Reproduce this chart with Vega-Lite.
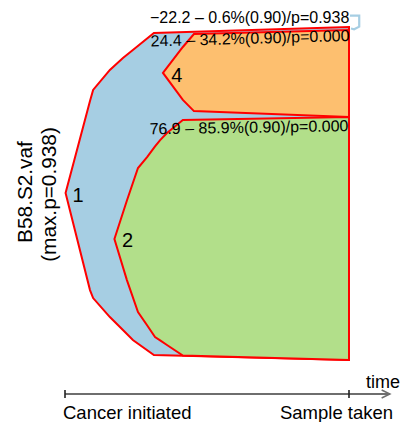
{
  "$schema": "https://vega.github.io/schema/vega-lite/v6.json",
  "width": 402,
  "height": 422,
  "padding": 0,
  "autosize": {"type": "none"},
  "background": "white",
  "config": {"view": {"stroke": null}, "font": "Liberation Sans"},
  "datasets": {
    "clones": [
      {"clone": "1", "t": 0.2, "top": 0.3, "bot": 0.3},
      {"clone": "1", "t": 8.8, "top": 55.6, "bot": -58.0},
      {"clone": "1", "t": 9.9, "top": 62.2, "bot": -62.8},
      {"clone": "1", "t": 15.8, "top": 74.2, "bot": -74.2},
      {"clone": "1", "t": 20.4, "top": 81.4, "bot": -82.0},
      {"clone": "1", "t": 23.9, "top": 86.2, "bot": -88.0},
      {"clone": "1", "t": 31.3, "top": 96.4, "bot": -97.0},
      {"clone": "1", "t": 100, "top": 100, "bot": -100},
      {"clone": "2", "t": 17.4, "top": -27.3, "bot": -27.3},
      {"clone": "2", "t": 21.8, "top": -4.2, "bot": -52.0},
      {"clone": "2", "t": 25.7, "top": 15.3, "bot": -71.2},
      {"clone": "2", "t": 28.9, "top": 21.9, "bot": -79.1},
      {"clone": "2", "t": 31.7, "top": 28.3, "bot": -86.2},
      {"clone": "2", "t": 33.5, "top": 32.1, "bot": -88.2},
      {"clone": "2", "t": 35.9, "top": 36.3, "bot": -91.0},
      {"clone": "2", "t": 41.5, "top": 44.1, "bot": -97.3},
      {"clone": "2", "t": 100, "top": 45.9, "bot": -100},
      {"clone": "4", "t": 34.5, "top": 72.4, "bot": 72.4},
      {"clone": "4", "t": 41.5, "top": 88.0, "bot": 56.2},
      {"clone": "4", "t": 45.4, "top": 95.8, "bot": 49.5},
      {"clone": "4", "t": 100, "top": 98.2, "bot": 45.9}
    ],
    "clone3": [
      {"i": 1, "t": 100.35, "v": 106.8},
      {"i": 2, "t": 103.6, "v": 106.8},
      {"i": 3, "t": 103.6, "v": 100.2},
      {"i": 4, "t": 101.8, "v": 98.6},
      {"i": 5, "t": 100.7, "v": 99.1}
    ],
    "ids": [
      {"label": "1", "t": 4.6, "v": -5.1},
      {"label": "2", "t": 22.0, "v": -32.1},
      {"label": "4", "t": 39.4, "v": 67.0}
    ],
    "arrow": [
      {"i": 1, "t": 111.5, "v": -118.0},
      {"i": 2, "t": 114.4, "v": -120.4},
      {"i": 3, "t": 111.5, "v": -122.8}
    ]
  },
  "layer": [
    {
      "data": {"name": "clones"},
      "transform": [{"filter": "datum.clone == '1'"}],
      "mark": {"type": "area", "fill": "#a6cee3", "fillOpacity": 1, "stroke": "#ff0000", "strokeWidth": 2, "interpolate": "linear"},
      "encoding": {
        "x": {"field": "t", "type": "quantitative", "scale": {"domain": [0, 100], "range": [65, 349], "nice": false, "zero": false}, "axis": null},
        "y": {"field": "top", "type": "quantitative", "scale": {"domain": [-100, 100], "range": [360, 27], "nice": false, "zero": false}, "axis": null},
        "y2": {"field": "bot"}
      }
    },
    {
      "data": {"name": "clones"},
      "transform": [{"filter": "datum.clone == '2'"}],
      "mark": {"type": "area", "fill": "#b2df8a", "fillOpacity": 1, "stroke": "#ff0000", "strokeWidth": 2, "interpolate": "linear"},
      "encoding": {
        "x": {"field": "t", "type": "quantitative", "scale": {"domain": [0, 100], "range": [65, 349], "nice": false, "zero": false}, "axis": null},
        "y": {"field": "top", "type": "quantitative", "scale": {"domain": [-100, 100], "range": [360, 27], "nice": false, "zero": false}, "axis": null},
        "y2": {"field": "bot"}
      }
    },
    {
      "data": {"name": "clones"},
      "transform": [{"filter": "datum.clone == '4'"}],
      "mark": {"type": "area", "fill": "#fdbf6f", "fillOpacity": 1, "stroke": "#ff0000", "strokeWidth": 2, "interpolate": "linear"},
      "encoding": {
        "x": {"field": "t", "type": "quantitative", "scale": {"domain": [0, 100], "range": [65, 349], "nice": false, "zero": false}, "axis": null},
        "y": {"field": "top", "type": "quantitative", "scale": {"domain": [-100, 100], "range": [360, 27], "nice": false, "zero": false}, "axis": null},
        "y2": {"field": "bot"}
      }
    },
    {
      "data": {"name": "clone3"},
      "mark": {"type": "line", "stroke": "#a6cee3", "strokeWidth": 2.2, "interpolate": "linear"},
      "encoding": {
        "x": {"field": "t", "type": "quantitative", "scale": {"domain": [0, 100], "range": [65, 349], "nice": false, "zero": false}, "axis": null},
        "y": {"field": "v", "type": "quantitative", "scale": {"domain": [-100, 100], "range": [360, 27], "nice": false, "zero": false}, "axis": null},
        "order": {"field": "i", "type": "quantitative"}
      }
    },
    {
      "data": {"name": "ids"},
      "mark": {"type": "text", "fontSize": 20, "align": "center", "baseline": "alphabetic", "color": "#000000"},
      "encoding": {
        "x": {"field": "t", "type": "quantitative", "scale": {"domain": [0, 100], "range": [65, 349], "nice": false, "zero": false}, "axis": null},
        "y": {"field": "v", "type": "quantitative", "scale": {"domain": [-100, 100], "range": [360, 27], "nice": false, "zero": false}, "axis": null},
        "text": {"field": "label"}
      }
    },
    {
      "data": {"values": [{"label": "−22.2 – 0.6%(0.90)/p=0.938", "t": 100.1, "v": 102.6}]},
      "mark": {"type": "text", "fontSize": 16, "align": "right", "baseline": "alphabetic", "color": "#000000"},
      "encoding": {
        "x": {"field": "t", "type": "quantitative", "scale": {"domain": [0, 100], "range": [65, 349], "nice": false, "zero": false}, "axis": null},
        "y": {"field": "v", "type": "quantitative", "scale": {"domain": [-100, 100], "range": [360, 27], "nice": false, "zero": false}, "axis": null},
        "text": {"field": "label"}
      }
    },
    {
      "data": {"values": [{"label": "24.4 – 34.2%(0.90)/p=0.000", "t": 100.2, "v": 91.6}]},
      "mark": {"type": "text", "fontSize": 16, "align": "right", "baseline": "alphabetic", "angle": 358.4, "color": "#000000"},
      "encoding": {
        "x": {"field": "t", "type": "quantitative", "scale": {"domain": [0, 100], "range": [65, 349], "nice": false, "zero": false}, "axis": null},
        "y": {"field": "v", "type": "quantitative", "scale": {"domain": [-100, 100], "range": [360, 27], "nice": false, "zero": false}, "axis": null},
        "text": {"field": "label"}
      }
    },
    {
      "data": {"values": [{"label": "76.9 – 85.9%(0.90)/p=0.000", "t": 99.8, "v": 37.4}]},
      "mark": {"type": "text", "fontSize": 16, "align": "right", "baseline": "alphabetic", "angle": 359.1, "color": "#000000"},
      "encoding": {
        "x": {"field": "t", "type": "quantitative", "scale": {"domain": [0, 100], "range": [65, 349], "nice": false, "zero": false}, "axis": null},
        "y": {"field": "v", "type": "quantitative", "scale": {"domain": [-100, 100], "range": [360, 27], "nice": false, "zero": false}, "axis": null},
        "text": {"field": "label"}
      }
    },
    {
      "data": {"values": [{"t": 0, "t2": 114.4, "v": -120.4}]},
      "mark": {"type": "rule", "stroke": "#6e6e6e", "strokeWidth": 2},
      "encoding": {
        "x": {"field": "t", "type": "quantitative", "scale": {"domain": [0, 100], "range": [65, 349], "nice": false, "zero": false}, "axis": null},
        "x2": {"field": "t2"},
        "y": {"field": "v", "type": "quantitative", "scale": {"domain": [-100, 100], "range": [360, 27], "nice": false, "zero": false}, "axis": null}
      }
    },
    {
      "data": {"name": "arrow"},
      "mark": {"type": "line", "stroke": "#6e6e6e", "strokeWidth": 1.5, "interpolate": "linear"},
      "encoding": {
        "x": {"field": "t", "type": "quantitative", "scale": {"domain": [0, 100], "range": [65, 349], "nice": false, "zero": false}, "axis": null},
        "y": {"field": "v", "type": "quantitative", "scale": {"domain": [-100, 100], "range": [360, 27], "nice": false, "zero": false}, "axis": null},
        "order": {"field": "i", "type": "quantitative"}
      }
    },
    {
      "data": {"values": [{"t": 0, "v": -118.0, "v2": -122.8}, {"t": 100, "v": -118.0, "v2": -122.8}]},
      "mark": {"type": "rule", "stroke": "#222222", "strokeWidth": 1.6},
      "encoding": {
        "x": {"field": "t", "type": "quantitative", "scale": {"domain": [0, 100], "range": [65, 349], "nice": false, "zero": false}, "axis": null},
        "y": {"field": "v", "type": "quantitative", "scale": {"domain": [-100, 100], "range": [360, 27], "nice": false, "zero": false}, "axis": null},
        "y2": {"field": "v2"}
      }
    },
    {
      "data": {"values": [{"label": "Cancer initiated", "t": -0.7, "v": -135.4}]},
      "mark": {"type": "text", "fontSize": 18.5, "align": "left", "baseline": "alphabetic", "color": "#000000"},
      "encoding": {
        "x": {"field": "t", "type": "quantitative", "scale": {"domain": [0, 100], "range": [65, 349], "nice": false, "zero": false}, "axis": null},
        "y": {"field": "v", "type": "quantitative", "scale": {"domain": [-100, 100], "range": [360, 27], "nice": false, "zero": false}, "axis": null},
        "text": {"field": "label"}
      }
    },
    {
      "data": {"values": [{"label": "Sample taken", "t": 95.6, "v": -135.4}]},
      "mark": {"type": "text", "fontSize": 18.5, "align": "center", "baseline": "alphabetic", "color": "#000000"},
      "encoding": {
        "x": {"field": "t", "type": "quantitative", "scale": {"domain": [0, 100], "range": [65, 349], "nice": false, "zero": false}, "axis": null},
        "y": {"field": "v", "type": "quantitative", "scale": {"domain": [-100, 100], "range": [360, 27], "nice": false, "zero": false}, "axis": null},
        "text": {"field": "label"}
      }
    },
    {
      "data": {"values": [{"label": "time", "t": 112.0, "v": -117.0}]},
      "mark": {"type": "text", "fontSize": 18, "align": "center", "baseline": "alphabetic", "color": "#000000"},
      "encoding": {
        "x": {"field": "t", "type": "quantitative", "scale": {"domain": [0, 100], "range": [65, 349], "nice": false, "zero": false}, "axis": null},
        "y": {"field": "v", "type": "quantitative", "scale": {"domain": [-100, 100], "range": [360, 27], "nice": false, "zero": false}, "axis": null},
        "text": {"field": "label"}
      }
    },
    {
      "data": {"values": [{"label": "B58.S2.vaf", "t": -11.6, "v": 0.9}, {"label": "(max.p=0.938)", "t": -3.2, "v": -0.6}]},
      "mark": {"type": "text", "fontSize": 20.8, "align": "center", "baseline": "alphabetic", "angle": 270, "color": "#000000"},
      "encoding": {
        "x": {"field": "t", "type": "quantitative", "scale": {"domain": [0, 100], "range": [65, 349], "nice": false, "zero": false}, "axis": null},
        "y": {"field": "v", "type": "quantitative", "scale": {"domain": [-100, 100], "range": [360, 27], "nice": false, "zero": false}, "axis": null},
        "text": {"field": "label"}
      }
    }
  ]
}
